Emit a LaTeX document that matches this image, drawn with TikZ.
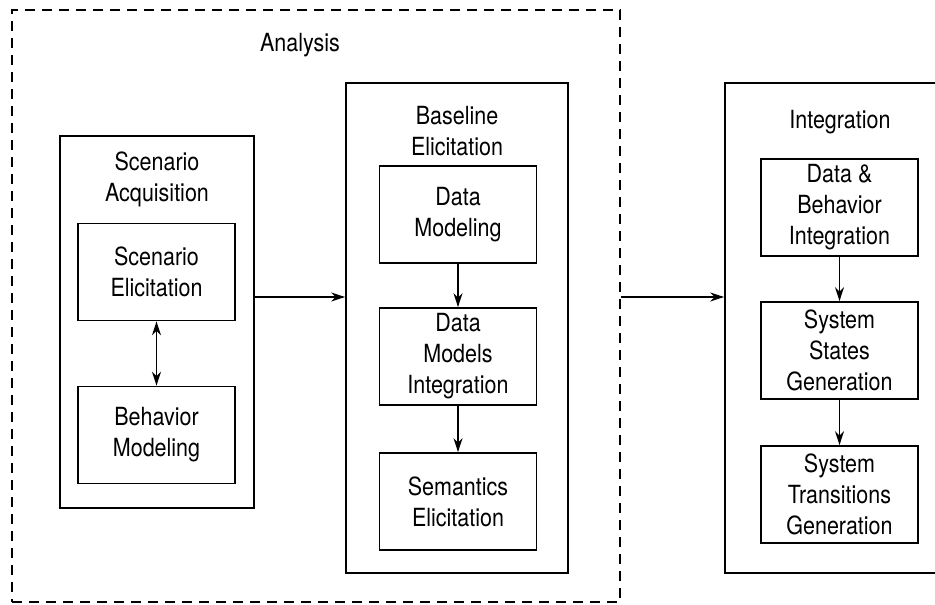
\documentclass[tikz,border=0pt]{standalone}
\usepackage{fontspec}
\setmainfont{TeX Gyre Heros}[FakeStretch=0.86]
\usepackage{tikz}
\usetikzlibrary{arrows.meta}

\begin{document}
\begin{tikzpicture}[x=1pt, y=-1pt, >={Stealth[length=14pt,width=9pt]},
    line width=1.8pt,
    txt/.style={font=\fontsize{25}{31}\selectfont, align=center, inner sep=0pt},
    block/.style={txt, draw, rectangle, minimum width=157pt, minimum height=97pt},
    group/.style={draw, rectangle, inner sep=0pt}]
    \useasboundingbox (0,0) rectangle (935,605);

    % outer frames
    \node[group, dashed, dash pattern=on 10pt off 7pt, minimum width=608pt, minimum height=592pt] (ana) at (316,306) {};
    \node[group, minimum width=194pt, minimum height=372pt] (acq) at (157,322) {};
    \node[group, minimum width=222pt, minimum height=490pt] (base) at (457,328) {};
    \node[group, minimum width=230pt, minimum height=490pt] (integ) at (840,328) {};

    % titles
    \node[txt] (anat) at (300,45) {Analysis};
    \node[txt] (acqt) at (157,179) {Scenario\\Acquisition};
    \node[txt] (baset) at (457,131) {Baseline\\Elicitation};
    \node[txt] (integt) at (840,122) {Integration};

    % inner blocks
    \node[block] (scen) at (156.5,272) {Scenario\\Elicitation};
    \node[block] (behav) at (156.5,435) {Behavior\\Modeling};
    \node[block] (dmod) at (458,214.5) {Data\\Modeling};
    \node[block] (dmint) at (458,356.5) {Data\\Models\\Integration};
    \node[block] (sem) at (458,501.5) {Semantics\\Elicitation};
    \node[block] (dbint) at (839.5,207.5) {Data \&\\Behavior\\Integration};
    \node[block] (sstate) at (839.5,350.5) {System\\States\\Generation};
    \node[block] (strans) at (839.5,494.5) {System\\Transitions\\Generation};

    \coordinate (flow) at (0,297);

    \draw[<->] (scen) -- (behav);
    \draw[->] (dmod) -- (dmint);
    \draw[->] (dmint) -- (sem);
    \draw[->] (dbint) -- (sstate);
    \draw[->] (sstate) -- (strans);
    \draw[->] (acq.east |- flow) -- (base.west |- flow);
    \draw[->] (ana.east |- flow) -- (integ.west |- flow);
\end{tikzpicture}
\end{document}
